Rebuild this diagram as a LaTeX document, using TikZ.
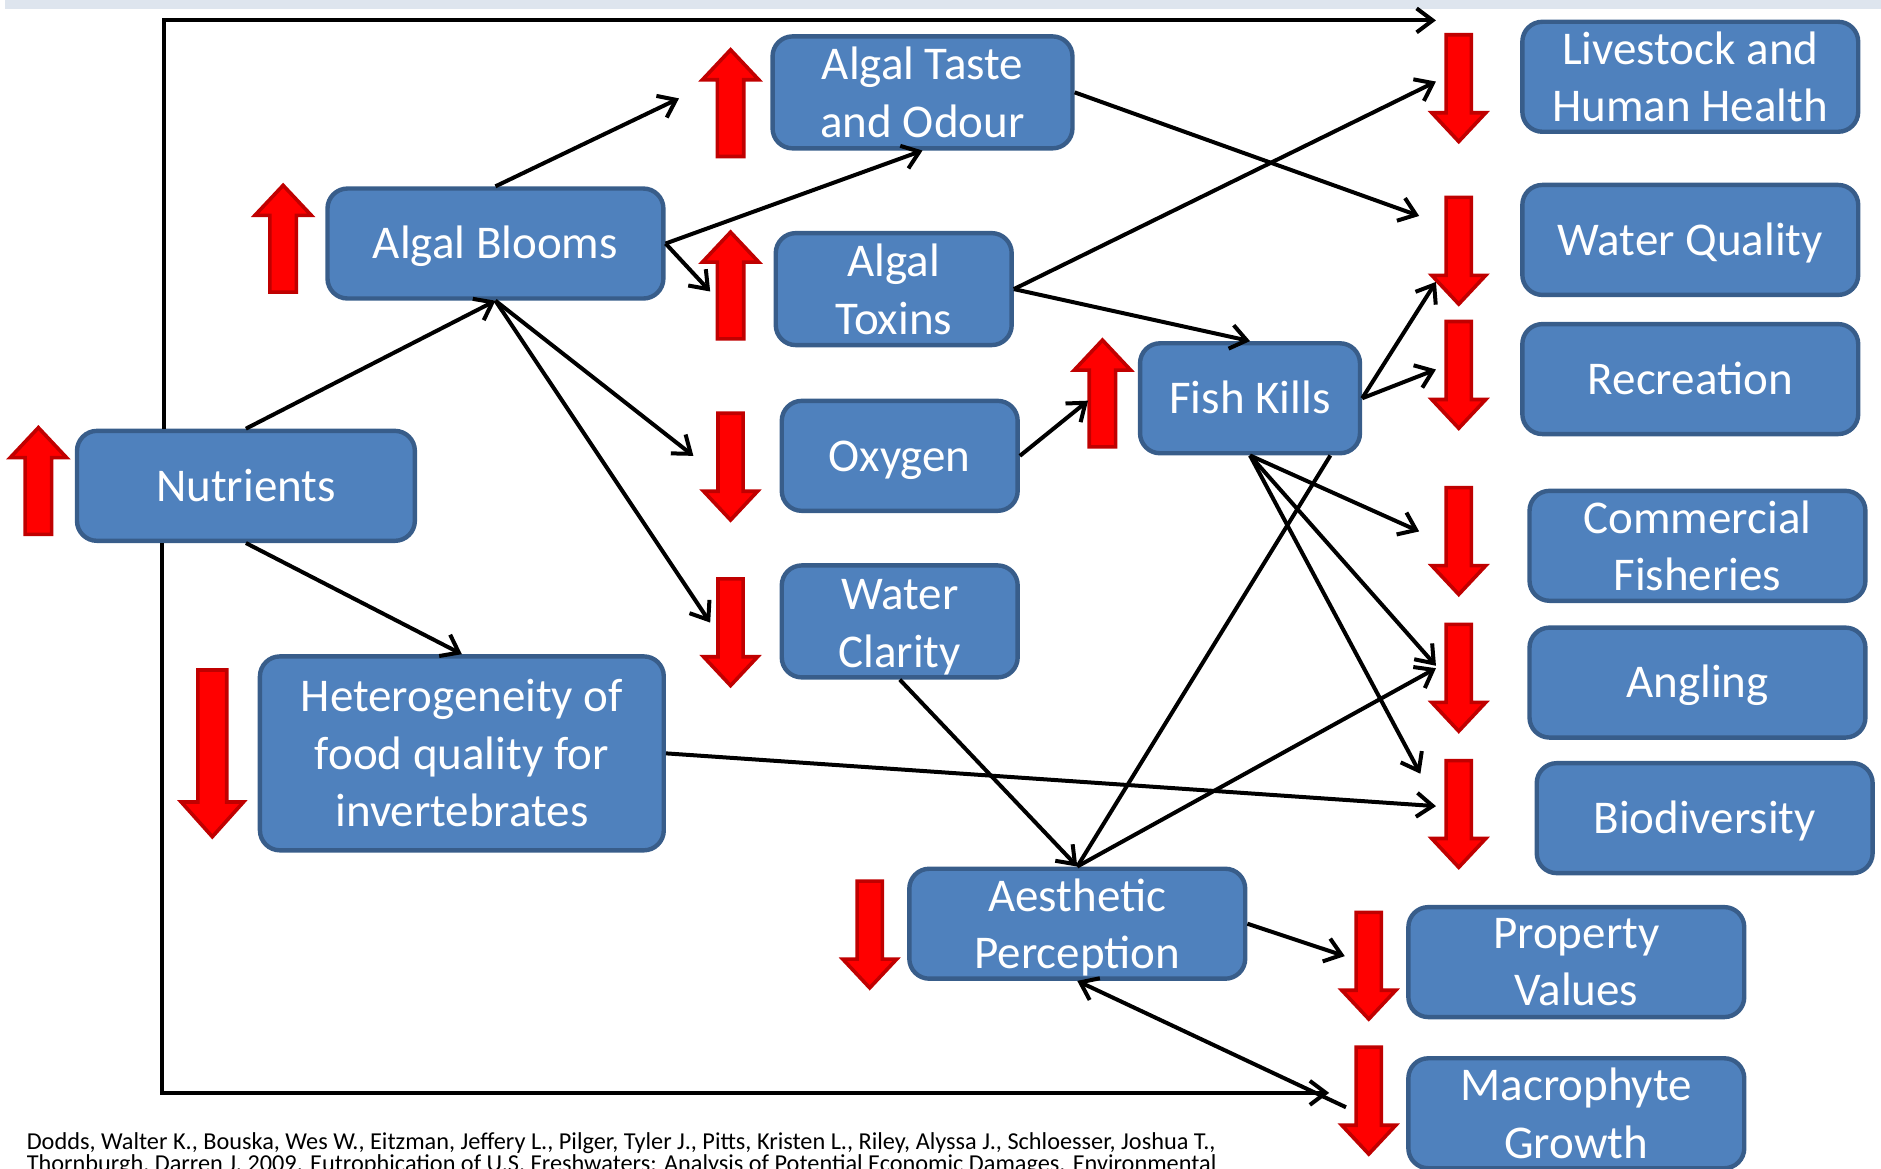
\documentclass[tikz,border=0pt]{standalone}
\usepackage{fontspec}
\setmainfont{Carlito}
\usetikzlibrary{arrows.meta}
\definecolor{boxfill}{HTML}{4F81BD}
\definecolor{boxborder}{HTML}{385D8A}
\definecolor{redfill}{HTML}{FF0000}
\definecolor{redborder}{HTML}{C00000}
\definecolor{topband}{HTML}{DEE5EE}
\tikzset{
  box/.style={draw=boxborder, fill=boxfill, line width=2.2pt, rounded corners=10pt,
    text=white, font=\fontsize{23.5}{28.8}\selectfont, align=center, inner sep=0pt},
  oneline/.style={execute at begin node={\rule{0pt}{20pt}},
    execute at end node={\rule[-4.6pt]{0pt}{4.6pt}}},
  sz/.style 2 args={minimum width=#1, minimum height=#2},
  conn/.style={line width=2pt, -{Straight Barb[length=8pt,width=12pt]}},
  plainline/.style={line width=2pt},
  redbar/.style={fill=redfill, draw=redborder, line width=1.8pt, line join=miter},
  cite/.style={font=\fontsize{12.15}{12.6}\selectfont, text=black, inner sep=0pt},
  downarr/.pic={\draw[redbar] (-10.5,0) -- (10.5,0) -- (10.5,65) -- (22.5,65) -- (0,89) -- (-22.5,65) -- (-10.5,65) -- cycle;},
  uparr/.pic={\draw[redbar] (-11,0) -- (11,0) -- (11,-64) -- (23.5,-64) -- (0,-89) -- (-23.5,-64) -- (-11,-64) -- cycle;},
  bigdown/.pic={\draw[redbar] (-12,0) -- (12,0) -- (12,110) -- (26,110) -- (0,139) -- (-26,110) -- (-12,110) -- cycle;},
}
\begin{document}
\begin{tikzpicture}[x=0.6pt, y=-0.6pt]
\useasboundingbox (0,0) rectangle (1568,974);
\fill[topband] (4,0) rectangle (1568,7.5);

% boxes
\node[box, sz={168pt}{55pt}] (live) at (1409,64) {Livestock and\\Human Health};
\node[box, oneline, sz={168pt}{55pt}] (wq) at (1409,200) {Water Quality};
\node[box, oneline, sz={168pt}{55pt}] (rec) at (1409,316) {Recreation};
\node[box, sz={168pt}{55pt}] (comm) at (1415,455) {Commercial\\Fisheries};
\node[box, oneline, sz={168pt}{55pt}] (ang) at (1415,569) {Angling};
\node[box, oneline, sz={168pt}{55pt}] (bio) at (1421,682) {Biodiversity};
\node[box, sz={168pt}{55pt}] (prop) at (1314,802) {Property\\Values};
\node[box, sz={168pt}{55pt}] (mac) at (1314,928) {Macrophyte\\Growth};
\node[box, sz={168pt}{55pt}] (aes) at (898,770) {\rule{0pt}{20.1pt}Aesthetic\\Perception};
\node[box, oneline, sz={169pt}{55pt}] (nut) at (205,405) {Nutrients};
\node[box, sz={202pt}{97pt}] (het) at (385,628) {Heterogeneity of\\food quality for\\invertebrates};
\node[box, oneline, sz={168pt}{55pt}] (blooms) at (413,203) {Algal Blooms};
\node[box, sz={150pt}{56pt}] (taste) at (769,77) {Algal Taste\\and Odour};
\node[box, sz={118pt}{56pt}] (tox) at (745,241) {Algal\\Toxins};
\node[box, oneline, sz={118pt}{55pt}] (oxy) at (750,380) {Oxygen};
\node[box, sz={118pt}{56pt}] (clar) at (750,518) {\rule{0pt}{21pt}Water\\Clarity};
\node[box, oneline, sz={110pt}{55pt}] (fish) at (1042,332) {Fish Kills};

% red block arrows
\pic at (32,445.5) {uparr};
\pic at (236,243.5) {uparr};
\pic at (609,130.5) {uparr};
\pic at (609,282.5) {uparr};
\pic at (919,372.5) {uparr};
\pic at (1216,29) {downarr};
\pic at (1216,164.5) {downarr};
\pic at (1216,268) {downarr};
\pic at (1216,406.5) {downarr};
\pic at (1216,520.5) {downarr};
\pic at (1216,634) {downarr};
\pic at (609,344.5) {downarr};
\pic at (609,482.5) {downarr};
\pic at (177,558.5) {bigdown};
\pic at (725,734.5) {downarr};
\pic at (1141,760.5) {downarr};
\pic at (1141,873) {downarr};

% free connector ends
\coordinate (nl) at (137,0);
\coordinate (nb) at (135,0);
\coordinate (c1) at (1197,17);
\coordinate (c2) at (1108,911);
\coordinate (c5) at (566,82);
\coordinate (c7) at (592,243);
\coordinate (c8) at (578,380);
\coordinate (c9) at (592,519);
\coordinate (c10) at (1183,180);
\coordinate (c11) at (1197,68);
\coordinate (c13) at (907,334);
\coordinate (c15) at (1197,235);
\coordinate (c16) at (1197,308);
\coordinate (c17) at (1183,443);
\coordinate (c18) at (1197,555);
\coordinate (c19) at (1184,645);
\coordinate (c21) at (1197,557);
\coordinate (c22) at (1197,672);
\coordinate (c23) at (1121,797);
\coordinate (c24) at (1122,923);
\coordinate (fk) at (1109,0);

% connectors
\draw[conn] (nl |- nut.north) |- (c1);
\draw[conn] (nb |- nut.south) |- (c2);
\draw[conn] (nut.north) -- (blooms.south);
\draw[conn] (nut.south) -- (het.north);
\draw[conn] (blooms.north) -- (c5);
\draw[conn] (blooms.east) -- (taste.south);
\draw[conn] (blooms.east) -- (c7);
\draw[conn] (blooms.south) -- (c8);
\draw[conn] (blooms.south) -- (c9);
\draw[conn] (taste.east) -- (c10);
\draw[conn] (tox.east) -- (c11);
\draw[conn] (tox.east) -- (fish.north);
\draw[conn] (oxy.east) -- (c13);
\draw[conn] (clar.south) -- (aes.north);
\draw[conn] (fish.east) -- (c15);
\draw[conn] (fish.east) -- (c16);
\draw[conn] (fish.south) -- (c17);
\draw[conn] (fish.south) -- (c18);
\draw[conn] (fish.south) -- (c19);
\draw[plainline] (fk |- fish.south) -- (aes.north);
\draw[conn] (aes.north) -- (c21);
\draw[conn] (het.east) -- (c22);
\draw[conn] (aes.east) -- (c23);
\draw[conn] (c24) -- (aes.south);

% citation
\node[cite, anchor=base west] (cite1) at (22,957.8) {Dodds, Walter K., Bouska, Wes W., Eitzman, Jeffery L., Pilger, Tyler J., Pitts, Kristen L., Riley, Alyssa J., Schloesser, Joshua T.,};
\node[cite, anchor=base west] (cite2) at (22,976.7) {Thornburgh, Darren J. 2009. Eutrophication of U.S. Freshwaters: Analysis of Potential Economic Damages. Environmental};
\end{tikzpicture}
\end{document}
